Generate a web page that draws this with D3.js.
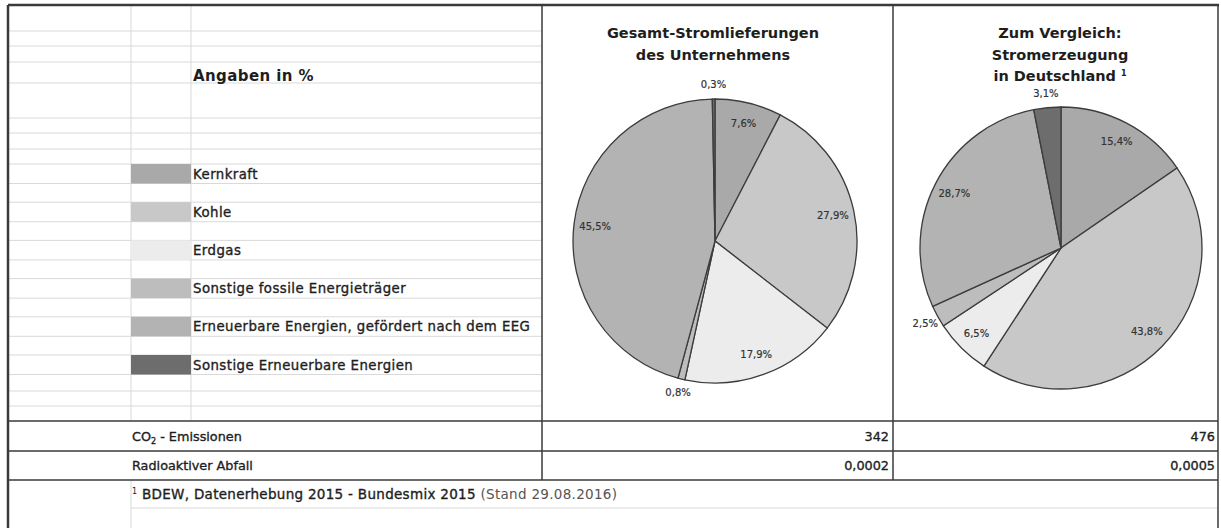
<!DOCTYPE html>
<html lang="de">
<head>
<meta charset="UTF-8">
<title>Stromkennzeichnung</title>
<script src="https://cdn.jsdelivr.net/npm/d3@7"></script>
<style>
    body { margin: 0; background: #fff; }
    svg text { font-family: "DejaVu Sans", sans-serif; fill: #1e1e1e; }
    .grid { stroke: #d9d9d9; stroke-width: 1; }
    .rule { stroke: #3a3a3a; stroke-width: 1.5; }
    .slice { stroke: #3c3c3c; stroke-width: 1.3; }
    .med { stroke: #1e1e1e; stroke-width: 0.35px; }
</style>
</head>
<body>
<svg id="chart" width="1221" height="528"></svg>
<script>
// data
var categories = ["Kernkraft", "Kohle", "Erdgas", "Sonstige fossile Energieträger",
    "Erneuerbare Energien, gefördert nach dem EEG", "Sonstige Erneuerbare Energien"];
var unternehmen = [7.6, 27.9, 17.9, 0.8, 45.5, 0.3];
var deutschland = [15.4, 43.8, 6.5, 2.5, 28.7, 3.1];
var rowLabels = ["CO2 - Emissionen", "Radioaktiver Abfall"];
var unternehmenRows = ["342", "0,0002"];
var deutschlandRows = ["476", "0,0005"];

// styles
var colors = ["#a9a9a9", "#c8c8c8", "#ececec", "#bdbdbd", "#b3b3b3", "#6d6d6d"];

var svg = d3.select("#chart");
var de = d3.formatLocale({decimal: ",", thousands: ".", grouping: [3], currency: ["", " €"]});
var pct = de.format(".1f");

// spreadsheet grid in the legend block
var legendY = d3.scaleLinear().domain([0, categories.length - 1]).range([164, 355]);
var rowH = 19.5;
var gridYs = [31, 46, 62, 83, 118, 133, 149];
categories.forEach(function (c, i) { gridYs.push(legendY(i), legendY(i) + rowH); });
gridYs.push(391, 406);

svg.append("g").selectAll("line").data(gridYs).enter().append("line")
    .attr("class", "grid")
    .attr("x1", 9).attr("x2", 542)
    .attr("y1", function (d) { return d; }).attr("y2", function (d) { return d; });

svg.append("g").selectAll("line").data([131, 191]).enter().append("line")
    .attr("class", "grid")
    .attr("x1", function (d) { return d; }).attr("x2", function (d) { return d; })
    .attr("y1", 6).attr("y2", 421);

// footer light lines
svg.append("line").attr("class", "grid").attr("x1", 131).attr("x2", 1218).attr("y1", 508).attr("y2", 508);
svg.append("line").attr("class", "grid").attr("x1", 131).attr("x2", 131).attr("y1", 480).attr("y2", 528);

// legend
var leg = svg.append("g").selectAll("g").data(categories).enter().append("g")
    .attr("transform", function (d, i) { return "translate(0," + legendY(i) + ")"; });
leg.append("rect")
    .attr("x", 131).attr("y", 0).attr("width", 60).attr("height", rowH)
    .attr("fill", function (d, i) { return colors[i]; });
leg.append("text")
    .attr("class", "med")
    .attr("x", 193).attr("y", rowH / 2).attr("dy", "0.36em")
    .style("font-size", "13.3px").style("letter-spacing", "0.45px")
    .text(function (d) { return d; });

svg.append("text").attr("x", 193).attr("y", 81)
    .style("font-size", "15px").style("font-weight", "bold").style("letter-spacing", "0.4px")
    .text("Angaben in %");

// pies
var pie = d3.pie().sort(null).value(function (d) { return d; });

function drawPie(values, cx, cy, r) {
    var arc = d3.arc().innerRadius(0).outerRadius(r);
    var g = svg.append("g").attr("transform", "translate(" + cx + "," + cy + ")");
    var arcs = pie(values);
    g.selectAll("path").data(arcs).enter().append("path")
        .attr("class", "slice")
        .attr("d", arc)
        .attr("fill", function (d, i) { return colors[i]; });
    g.selectAll("text").data(arcs).enter().append("text")
        .attr("transform", function (d) {
            var k = d.value < 5 ? 1.1 : 0.85;
            var a = (d.startAngle + d.endAngle) / 2;
            return "translate(" + (Math.sin(a) * r * k) + "," + (-Math.cos(a) * r * k) + ")";
        })
        .attr("text-anchor", "middle").attr("dy", "0.35em")
        .style("font-size", "10px").style("fill", "#333")
        .style("stroke", "#333").style("stroke-width", "0.2px")
        .text(function (d) { return pct(d.value) + "%"; });
}
drawPie(unternehmen, 715, 241, 142);
drawPie(deutschland, 1061, 248, 141);

// titles
function title(lines, cx, y0) {
    var t = svg.append("text").attr("text-anchor", "middle")
        .style("font-size", "14.5px").style("font-weight", "bold");
    lines.forEach(function (l, i) {
        var s = t.append("tspan").attr("x", cx).attr("y", y0 + i * 21.5).text(l);
        if (i == lines.length - 1 && lines.length == 3) {
            s.text(l + " ");
            t.append("tspan").attr("dy", -5).style("font-size", "8px").text("1");
        }
    });
}
title(["Gesamt-Stromlieferungen", "des Unternehmens"], 713, 38);
title(["Zum Vergleich:", "Stromerzeugung", "in Deutschland"], 1060, 38);

// lower table
var rowYs = [437, 466];
rowLabels.forEach(function (l, i) {
    var t = svg.append("text").attr("class", "med").attr("x", 132).attr("y", rowYs[i]).attr("dy", "0.35em")
        .style("font-size", "12.8px");
    if (i == 0) {
        t.append("tspan").text("CO");
        t.append("tspan").attr("dy", 3).style("font-size", "8px").text("2");
        t.append("tspan").attr("dy", -3).text(" - Emissionen");
    } else {
        t.text(l);
    }
    svg.append("text").attr("class", "med").attr("x", 889).attr("y", rowYs[i]).attr("dy", "0.35em")
        .attr("text-anchor", "end").style("font-size", "12.8px").text(unternehmenRows[i]);
    svg.append("text").attr("class", "med").attr("x", 1215).attr("y", rowYs[i]).attr("dy", "0.35em")
        .attr("text-anchor", "end").style("font-size", "12.8px").text(deutschlandRows[i]);
});

var fn = svg.append("text").attr("x", 132).attr("y", 499)
    .style("font-size", "13.5px").style("letter-spacing", "0.3px");
fn.append("tspan").attr("dy", -5).style("font-size", "8px").text("1");
fn.append("tspan").attr("class", "med").attr("dy", 5).text(" BDEW, Datenerhebung 2015 - Bundesmix 2015 ");
fn.append("tspan").style("fill", "#555").text("(Stand 29.08.2016)");

// dark rules
[[8, 421, 1218, 421], [8, 451, 1218, 451], [8, 480, 1218, 480],
 [542, 5, 542, 480], [893, 5, 893, 480]].forEach(function (l) {
    svg.append("line").attr("class", "rule")
        .attr("x1", l[0]).attr("y1", l[1]).attr("x2", l[2]).attr("y2", l[3]);
});
svg.append("line").attr("class", "rule").style("stroke-width", 2.5)
    .attr("x1", 8).attr("y1", 5).attr("x2", 1219).attr("y2", 5);
svg.append("line").attr("class", "rule").style("stroke-width", 2.5)
    .attr("x1", 8).attr("y1", 5).attr("x2", 8).attr("y2", 528);
svg.append("line").attr("class", "rule").style("stroke-width", 1.5)
    .attr("x1", 1218).attr("y1", 5).attr("x2", 1218).attr("y2", 528);
</script>
</body>
</html>
